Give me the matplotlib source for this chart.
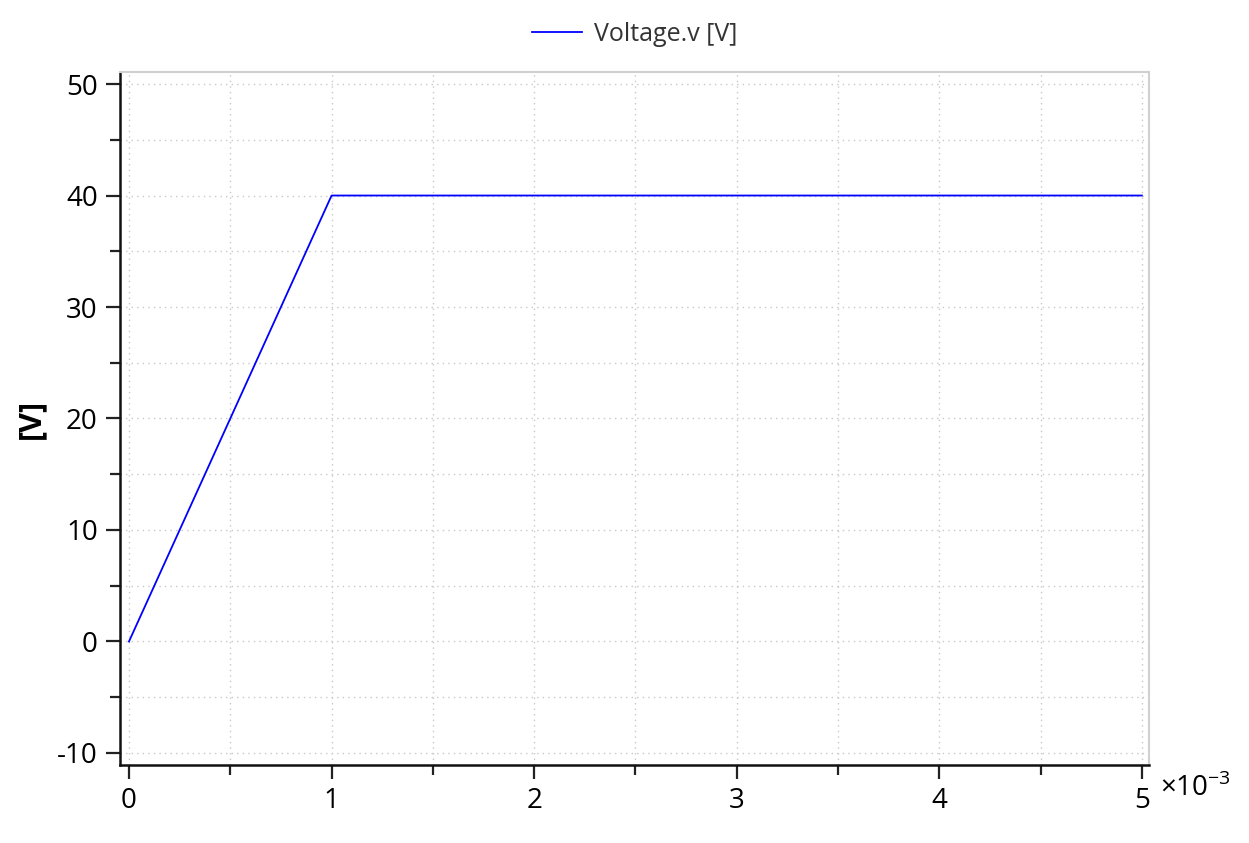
import matplotlib
matplotlib.use("Agg")
import matplotlib.pyplot as plt
from matplotlib.ticker import MultipleLocator, FuncFormatter

plt.rcParams['font.family'] = ['Open Sans', 'DejaVu Sans']
plt.rcParams['mathtext.fontset'] = 'custom'
plt.rcParams['mathtext.rm'] = 'Open Sans'

# simulation result (time in s, voltage in V)
time_s = [0.0, 0.001, 0.005]
voltage = [0.0, 40.0, 40.0]
series_label = "Voltage.v [V]"

fig = plt.figure(figsize=(12.49, 8.43), dpi=100)
ax = fig.add_axes([120 / 1249, 1 - 765 / 843, 1029 / 1249, 693 / 843])

t_ms = [t * 1e3 for t in time_s]
ax.plot(t_ms, voltage, color='#0000ff', lw=1.3, label=series_label)

ax.set_xlim(-0.0444, 5.035)
ax.set_ylim(-11.08, 51.08)

ax.xaxis.set_major_locator(MultipleLocator(1))
ax.xaxis.set_minor_locator(MultipleLocator(0.5))
ax.yaxis.set_major_locator(MultipleLocator(10))
ax.yaxis.set_minor_locator(MultipleLocator(5))
ax.xaxis.set_major_formatter(FuncFormatter(lambda v, p: "%g" % v))
ax.yaxis.set_major_formatter(FuncFormatter(lambda v, p: "%g" % v))

ax.grid(True, which='both', color='#c8c8c8', ls=(0, (1, 3)), lw=1)
ax.tick_params(which='major', length=10, width=1.6, labelsize=20, color='#222222', pad=6)
ax.tick_params(which='minor', length=7, width=1.6, color='#222222')

for s in ['left', 'bottom']:
    ax.spines[s].set_color('#111111')
    ax.spines[s].set_linewidth(1.8)
for s in ['top', 'right']:
    ax.spines[s].set_color('#d0d0d0')
    ax.spines[s].set_linewidth(1.5)

ax.set_ylabel("[V]", fontsize=22, fontweight='bold', labelpad=8)
ax.text(1.011, -0.013, r"×10$^{\mathregular{-3}}$", transform=ax.transAxes,
        fontsize=20, ha='left', va='top')

leg = ax.legend(loc='lower center', bbox_to_anchor=(0.5, 1.0), frameon=False,
                fontsize=18, handlelength=2.0, handletextpad=0.5, borderaxespad=0.6)
for txt in leg.get_texts():
    txt.set_color('#333333')

fig.savefig("out.png", dpi=100)
